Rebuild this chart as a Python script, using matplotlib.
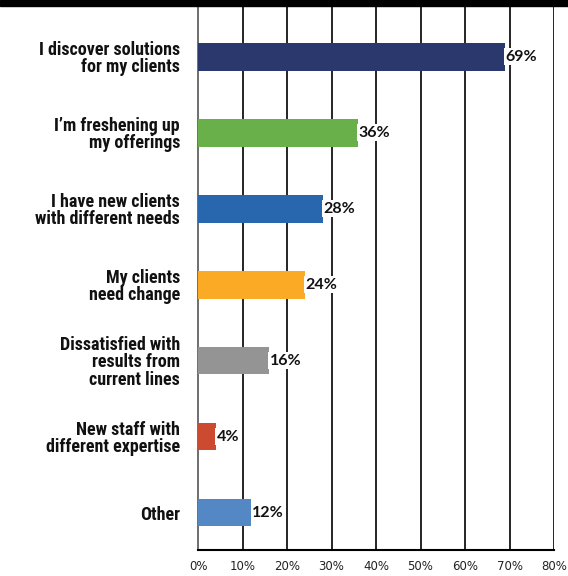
import matplotlib.pyplot as plt
from matplotlib.patches import Rectangle

# Survey answers, top to bottom
labels = [
    "I discover solutions\nfor my clients",
    "I\u2019m freshening up\nmy offerings",
    "I have new clients\nwith different needs",
    "My clients\nneed change",
    "Dissatisfied with\nresults from\ncurrent lines",
    "New staff with\ndifferent expertise",
    "Other",
]
values = [69, 36, 28, 24, 16, 4, 12]
colors = ["#2b386d", "#6ab04a", "#2867ad", "#fbaa26", "#959494", "#cc4a30", "#5488c4"]
ticks = [0, 10, 20, 30, 40, 50, 60, 70, 80]

fig = plt.figure(figsize=(5.68, 5.76), dpi=100)
ax = fig.add_axes([198 / 568, 26 / 576, 356 / 568, 544 / 576])

ypos = list(range(len(values)))
ax.barh(ypos, values, height=0.36, color=colors, zorder=3)

for y, v in zip(ypos, values):
    ax.text(v + 0.15, y, f"{v}%", va="center", ha="left", fontsize=11.5,
            fontweight="bold", family=["Lato", "DejaVu Sans"], color="#111111",
            zorder=4, bbox=dict(facecolor="white", edgecolor="none", pad=1.0))

ax.set_xlim(0, 80)
ax.set_ylim(6.49, -0.67)
ax.set_xticks(ticks)
ax.set_xticklabels([f"{t}%" for t in ticks], fontsize=8.5, color="#222222")
ax.set_yticks(ypos)
ax.set_yticklabels(labels, fontsize=13, fontweight="heavy",
                   family=["Roboto Condensed", "Liberation Sans", "DejaVu Sans"],
                   linespacing=0.95, ha="right", color="#111111")
ax.tick_params(axis="both", length=0)
ax.tick_params(axis="y", pad=13)
ax.tick_params(axis="x", pad=7)

for t in ticks[1:]:
    ax.axvline(t, color="black", lw=1.2, zorder=1)

for s in ["top", "right"]:
    ax.spines[s].set_visible(False)
ax.spines["left"].set_color("#555555")
ax.spines["left"].set_linewidth(1.2)
ax.spines["bottom"].set_color("black")
ax.spines["bottom"].set_linewidth(1.5)

# black strip along the top edge
fig.patches.append(Rectangle((0, 570 / 576), 1, 6 / 576, transform=fig.transFigure,
                             color="black", zorder=0))

fig.savefig("out.png", dpi=100)
